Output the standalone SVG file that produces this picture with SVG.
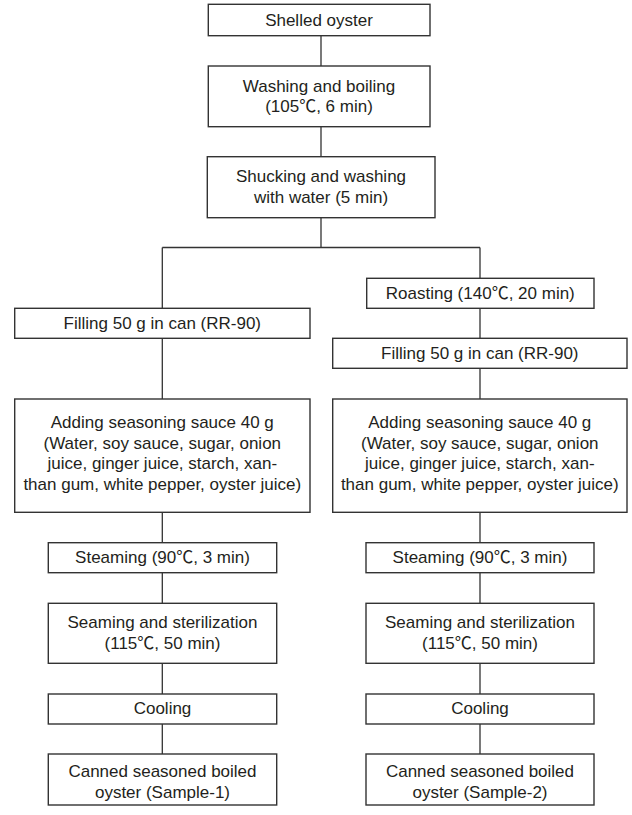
<svg xmlns="http://www.w3.org/2000/svg" width="632" height="815" viewBox="0 0 632 815">
<style>
.b{fill:#fff;stroke:#333;stroke-width:1.4}
.t{font-family:"Liberation Sans","Noto Sans CJK SC",Arial,sans-serif;font-size:17px;fill:#231f20;text-anchor:middle}
.c{stroke:#333;stroke-width:1.3;fill:none}
</style>
<rect width="632" height="815" fill="#fff"/>
<g id="connectors">
<path class="c" d="M321,36V66M321,126.7V156.7M321,217.7V247.5M162.3,247.5H480M162.3,247.5V308.3M480,247.5V278.3M480,308.3V338.3M480,368.3V399M162.3,338.3V399"/>
<path class="c" d="M162.3,512.3V542.7M162.3,572.7V603.3M162.3,663.3V694M162.3,724V754"/>
<path class="c" d="M480,512.3V542.7M480,572.7V603.3M480,663.3V694M480,724V754"/>
</g>
<g id="shelled"><rect class="b" x="208.3" y="4.3" width="221.7" height="31.4"/><text class="t" x="319" y="26">Shelled oyster</text></g>
<g id="washing"><rect class="b" x="208.3" y="66" width="221.7" height="60.7"/><text class="t" x="319" y="92">Washing and boiling</text><text class="t" x="319" y="112">(105℃, 6 min)</text></g>
<g id="shucking"><rect class="b" x="207.3" y="156.7" width="227.7" height="61"/><text class="t" x="321" y="182">Shucking and washing</text><text class="t" x="321" y="202.5">with water (5 min)</text></g>
<g id="filling1"><rect class="b" x="14.7" y="308.3" width="295.3" height="30"/><text class="t" x="162.3" y="328.5">Filling 50 g in can (RR-90)</text></g>
<g id="adding1"><rect class="b" x="14.7" y="399" width="295.3" height="113.3"/><text class="t" x="162.3" y="428">Adding seasoning sauce 40 g</text><text class="t" x="162.3" y="448.5">(Water, soy sauce, sugar, onion</text><text class="t" x="162.3" y="469">juice, ginger juice, starch, xan-</text><text class="t" x="162.3" y="489.5">than gum, white pepper, oyster juice)</text></g>
<g id="steaming1"><rect class="b" x="48.3" y="542.7" width="228.4" height="30"/><text class="t" x="162.5" y="563">Steaming (90℃, 3 min)</text></g>
<g id="seaming1"><rect class="b" x="48.3" y="603.3" width="228.4" height="60"/><text class="t" x="162.5" y="628">Seaming and sterilization</text><text class="t" x="162.5" y="648.5">(115℃, 50 min)</text></g>
<g id="cooling1"><rect class="b" x="48.3" y="694" width="228.4" height="30"/><text class="t" x="162.5" y="714">Cooling</text></g>
<g id="canned1"><rect class="b" x="48.3" y="754" width="228.4" height="51"/><text class="t" x="162.5" y="777">Canned seasoned boiled</text><text class="t" x="162.5" y="797.5">oyster (Sample-1)</text></g>
<g id="roasting"><rect class="b" x="366.7" y="278.3" width="227.3" height="30"/><text class="t" x="480.3" y="298.8">Roasting (140℃, 20 min)</text></g>
<g id="filling2"><rect class="b" x="332.7" y="338.3" width="294.3" height="30"/><text class="t" x="479.8" y="359">Filling 50 g in can (RR-90)</text></g>
<g id="adding2"><rect class="b" x="332.7" y="399" width="294.3" height="113.3"/><text class="t" x="479.8" y="428">Adding seasoning sauce 40 g</text><text class="t" x="479.8" y="448.5">(Water, soy sauce, sugar, onion</text><text class="t" x="479.8" y="469">juice, ginger juice, starch, xan-</text><text class="t" x="479.8" y="489.5">than gum, white pepper, oyster juice)</text></g>
<g id="steaming2"><rect class="b" x="366" y="542.7" width="228" height="30"/><text class="t" x="480" y="563">Steaming (90℃, 3 min)</text></g>
<g id="seaming2"><rect class="b" x="366" y="603.3" width="228" height="60"/><text class="t" x="480" y="628">Seaming and sterilization</text><text class="t" x="480" y="648.5">(115℃, 50 min)</text></g>
<g id="cooling2"><rect class="b" x="366" y="694" width="228" height="30"/><text class="t" x="480" y="714">Cooling</text></g>
<g id="canned2"><rect class="b" x="366" y="754" width="228" height="51"/><text class="t" x="480" y="777">Canned seasoned boiled</text><text class="t" x="480" y="797.5">oyster (Sample-2)</text></g>
</svg>
